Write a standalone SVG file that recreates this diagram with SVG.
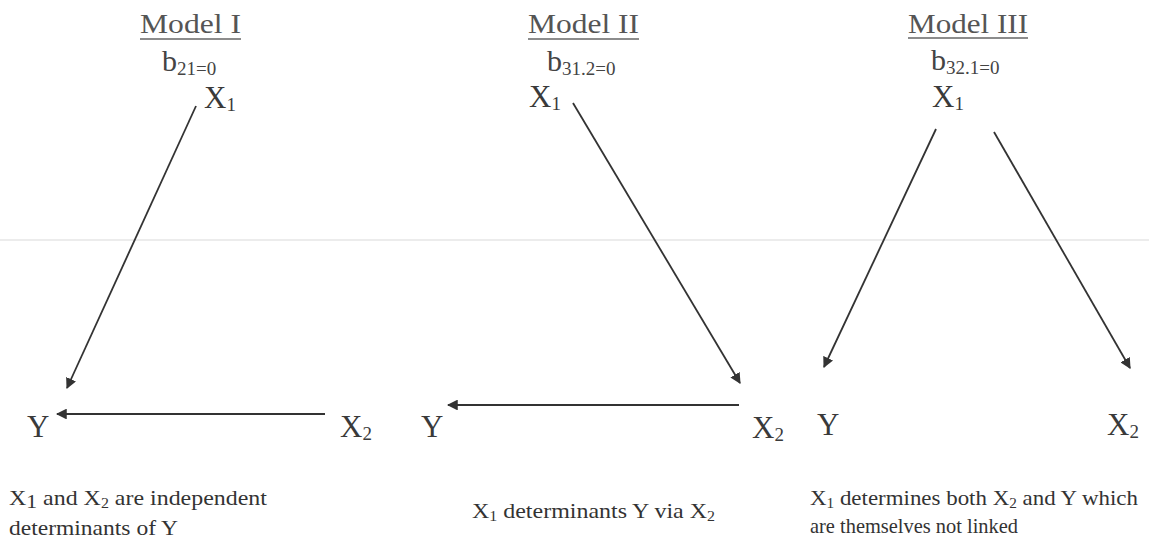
<svg xmlns="http://www.w3.org/2000/svg" width="1149" height="541" viewBox="0 0 1149 541">
<style>
text{font-family:"Liberation Serif","Times New Roman",serif;}
.title{font-size:27px;fill:#555;}
.coef{font-size:30px;fill:#444;}
.node{font-size:31px;fill:#3a3a3a;}
.sub{font-size:19px;}
.csub{font-size:19px;}
.note{font-size:21px;fill:#333;}
.ul{stroke:#666;stroke-width:1.6;}
.edge{stroke:#333;stroke-width:1.8;fill:none;marker-end:url(#ah);}
</style>
<defs>
<marker id="ah" viewBox="0 0 10 10" refX="9" refY="5" markerWidth="6" markerHeight="6" markerUnits="strokeWidth" orient="auto">
<path d="M0,0 L10,5 L0,10 z" fill="#333"/>
</marker>
</defs>
<rect width="1149" height="541" fill="#fff"/>
<line x1="0" y1="240" x2="1149" y2="240" stroke="#ececec" stroke-width="2"/>

<g id="model1">
<g id="m1-title"><text class="title" x="140" y="33" textLength="101" lengthAdjust="spacingAndGlyphs">Model I</text><line class="ul" x1="140" y1="39" x2="241" y2="39"/></g>
<g id="m1-coef"><text class="coef" x="162" y="71">b<tspan class="csub" dy="4">21=0</tspan></text></g>
<g id="m1-x1"><text class="node" x="204" y="108">X<tspan class="sub" dy="3">1</tspan></text></g>
<g id="m1-y"><text class="node" x="27" y="437">Y</text></g>
<g id="m1-x2"><text class="node" x="340" y="437">X<tspan class="sub" dy="3">2</tspan></text></g>
<g id="m1-note"><text class="note" x="9" y="505" textLength="258" lengthAdjust="spacingAndGlyphs">X<tspan class="sub" font-size="14" dy="3">1</tspan><tspan dy="-3"> and X</tspan><tspan font-size="14" dy="3">2</tspan><tspan dy="-3"> are independent</tspan></text>
<text class="note" x="9" y="535" textLength="169" lengthAdjust="spacingAndGlyphs">determinants of Y</text></g>
</g>

<g id="model2">
<g id="m2-title"><text class="title" x="528" y="33" textLength="111" lengthAdjust="spacingAndGlyphs">Model II</text><line class="ul" x1="528" y1="39" x2="639" y2="39"/></g>
<g id="m2-coef"><text class="coef" x="547" y="71">b<tspan class="csub" dy="4">31.2=0</tspan></text></g>
<g id="m2-x1"><text class="node" x="529" y="107">X<tspan class="sub" dy="3">1</tspan></text></g>
<g id="m2-y"><text class="node" x="421" y="437">Y</text></g>
<g id="m2-x2"><text class="node" x="752" y="438">X<tspan class="sub" dy="3">2</tspan></text></g>
<g id="m2-note"><text class="note" x="472" y="518" textLength="243" lengthAdjust="spacingAndGlyphs">X<tspan font-size="14" dy="3">1</tspan><tspan dy="-3"> determinants Y via X</tspan><tspan font-size="14" dy="3">2</tspan></text></g>
</g>

<g id="model3">
<g id="m3-title"><text class="title" x="908" y="33" textLength="120" lengthAdjust="spacingAndGlyphs">Model III</text><line class="ul" x1="908" y1="38" x2="1028" y2="38"/></g>
<g id="m3-coef"><text class="coef" x="931" y="70">b<tspan class="csub" dy="4">32.1=0</tspan></text></g>
<g id="m3-x1"><text class="node" x="932" y="107">X<tspan class="sub" dy="3">1</tspan></text></g>
<g id="m3-y"><text class="node" x="817" y="435">Y</text></g>
<g id="m3-x2"><text class="node" x="1107" y="435">X<tspan class="sub" dy="3">2</tspan></text></g>
<g id="m3-note"><text class="note" x="810" y="505" textLength="328" lengthAdjust="spacingAndGlyphs">X<tspan font-size="14" dy="3">1</tspan><tspan dy="-3"> determines both X</tspan><tspan font-size="14" dy="3">2</tspan><tspan dy="-3"> and  Y which</tspan></text>
<text class="note" x="810" y="533" textLength="208" lengthAdjust="spacingAndGlyphs">are themselves not linked</text></g>
</g>

<g id="connectors">
<line class="edge" x1="196" y1="106" x2="67" y2="388"/>
<line class="edge" x1="325" y1="414" x2="57" y2="414"/>
<line class="edge" x1="573" y1="103" x2="740" y2="383"/>
<line class="edge" x1="739" y1="405" x2="448" y2="405"/>
<line class="edge" x1="936" y1="129" x2="824" y2="367"/>
<line class="edge" x1="994" y1="132" x2="1130" y2="368"/>
</g>
</svg>
